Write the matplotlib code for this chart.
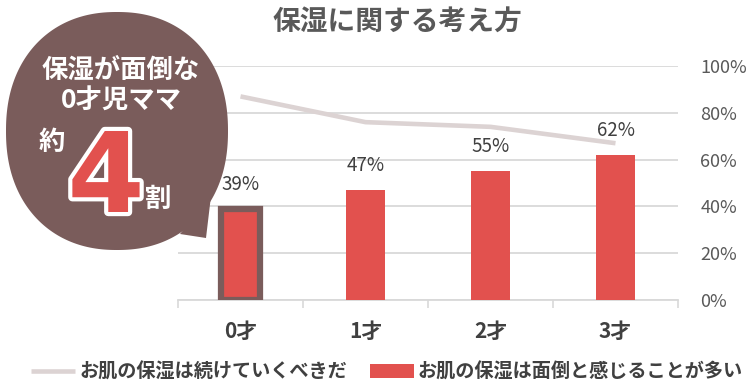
import numpy as np
import matplotlib
matplotlib.use("Agg")
import matplotlib.pyplot as plt
from matplotlib.patches import Polygon
from matplotlib.ticker import FixedLocator, PercentFormatter
import matplotlib.patheffects as pe

plt.rcParams['font.family'] = ['Noto Sans CJK JP', 'DejaVu Sans']

# ---- data ----
categories = ['0才', '1才', '2才', '3才']
bother_values = [39, 47, 55, 62]          # お肌の保湿は面倒と感じることが多い (bars)
continue_values = [87, 76, 74, 67]        # お肌の保湿は続けていくべきだ (line)
bar_label = 'お肌の保湿は面倒と感じることが多い'
line_label = 'お肌の保湿は続けていくべきだ'
title = '保湿に関する考え方'
yticks = [0, 20, 40, 60, 80, 100]

W, H = 753, 388
fig = plt.figure(figsize=(W / 100, H / 100), dpi=100)
fig.patch.set_facecolor('white')

BAR = '#E2514E'
BROWN = '#7A5C5B'
LINE = '#DCD3D3'
GRID = '#D9D9D9'
TXT = '#404040'

ax = fig.add_axes([178 / W, 1 - 300 / H, 500 / W, 234 / H])
x = np.arange(len(categories))
bars = ax.bar(x, bother_values, width=0.31, color=BAR, zorder=3, label=bar_label)
bars[0].set_edgecolor(BROWN)
bars[0].set_linewidth(4.5)
line, = ax.plot(x, continue_values, color=LINE, lw=3.3, zorder=4,
                solid_capstyle='butt', label=line_label)

for xi, v in zip(x, bother_values):
    ax.annotate(f'{v}%', (xi, v), xytext=(0, 10), textcoords='offset points',
                ha='center', va='bottom', fontsize=13.5, color=TXT, zorder=5)

ax.set_xlim(-0.5, len(categories) - 0.5)
ax.set_ylim(0, 100)
ax.set_xticks(x)
ax.set_xticklabels(categories, fontsize=15, fontweight='bold', color=TXT)
ax.xaxis.set_minor_locator(FixedLocator(np.arange(-0.5, len(categories), 1.0)))
ax.tick_params(axis='x', which='major', length=0, pad=15)
ax.tick_params(axis='x', which='minor', length=6, color=GRID, width=1.2)

ax.yaxis.tick_right()
ax.set_yticks(yticks)
ax.yaxis.set_major_formatter(PercentFormatter(decimals=0))
ax.tick_params(axis='y', length=0, pad=16, labelsize=13, labelcolor='#595959')
ax.grid(axis='y', color=GRID, lw=1.3, zorder=0)
ax.set_axisbelow(True)
for s in ['top', 'left', 'right']:
    ax.spines[s].set_visible(False)
ax.spines['bottom'].set_color(GRID)
ax.spines['bottom'].set_linewidth(1.3)

fig.text(397 / W, 1 - 22 / H, title, ha='center', va='center',
         fontsize=20, fontweight='bold', color='#595959')

leg = fig.legend(handles=[line, bars], labels=[line_label, bar_label],
                 loc='center', bbox_to_anchor=(387 / W, 1 - 372 / H), ncol=2,
                 frameon=False, fontsize=13.8, handlelength=2.3, handleheight=0.8,
                 columnspacing=1.2, handletextpad=0.2)
for t in leg.get_texts():
    t.set_fontweight('bold')
    t.set_color(TXT)
leg.legend_handles[1].set_edgecolor('none')
leg.legend_handles[1].set_linewidth(0)

# ---- speech bubble overlay ----
ov = fig.add_axes([0, 0, 1, 1], zorder=10)
ov.set_xlim(0, W)
ov.set_ylim(H, 0)
ov.axis('off')
ov.patch.set_alpha(0)

t = np.linspace(0, 2 * np.pi, 500)
n = 2.2
cx, cy, a, b = 117, 131, 111, 119
ex = cx + a * np.sign(np.cos(t)) * np.abs(np.cos(t)) ** (2 / n)
ey = cy + b * np.sign(np.sin(t)) * np.abs(np.sin(t)) ** (2 / n)
ov.add_patch(Polygon(np.column_stack([ex, ey]), closed=True, color=BROWN, lw=0))
ov.add_patch(Polygon([[180, 234], [206, 238], [211, 196]], closed=True, color=BROWN, lw=0))

ov.text(121, 70, '保湿が面倒な', ha='center', va='center', fontsize=19,
        fontweight='bold', color='white')
ov.text(121, 101, '0才児ママ', ha='center', va='center', fontsize=19,
        fontweight='bold', color='white')
ov.text(52, 143, '約', ha='center', va='center', fontsize=19,
        fontweight='bold', color='white')
ov.text(158, 199, '割', ha='center', va='center', fontsize=19,
        fontweight='bold', color='white')
ov.text(106, 212, '4', ha='center', va='baseline', fontsize=80,
        fontweight='bold', color=BAR, family='DejaVu Sans',
        path_effects=[pe.withStroke(linewidth=6, foreground='white')])

fig.savefig('out.png', dpi=100, facecolor='white')
